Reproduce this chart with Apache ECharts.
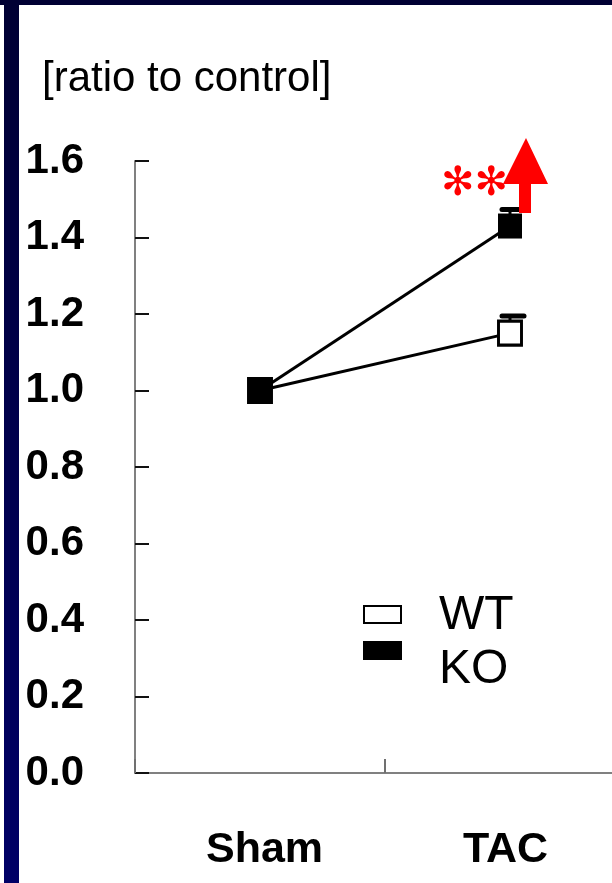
<!DOCTYPE html>
<html>
<head>
<meta charset="utf-8">
<script src="https://cdn.jsdelivr.net/npm/echarts@6/dist/echarts.min.js"></script>
<style>
html,body{margin:0;padding:0;background:#fff;}
#chart{width:612px;height:883px;}
</style>
</head>
<body>
<div id="chart"></div>
<script>
// ---- data ----
const categories = ['Sham', 'TAC'];
const seriesNames = ['WT', 'KO'];
const wtValues = [1.0, 1.15];
const koValues = [1.0, 1.43];
const wtUpper = [null, 1.195];
const koUpper = [null, 1.473];
const yTicks = [0, 0.2, 0.4, 0.6, 0.8, 1.0, 1.2, 1.4, 1.6];
const yTitle = '[ratio to control]';
const sigLabel = '✻✻';

const FONT = 'Liberation Sans, Arial, Helvetica, sans-serif';

function errData(vals, ups) {
  const out = [];
  vals.forEach((v, i) => { if (ups[i] != null) out.push([i, v, ups[i]]); });
  return out;
}

function renderErr(params, api) {
  const x = api.value(0);
  const p0 = api.coord([x, api.value(1)]);
  const p1 = api.coord([x, api.value(2)]);
  const hw = 11;
  return {
    type: 'group',
    children: [
      { type: 'line', shape: { x1: p0[0], y1: p0[1], x2: p1[0], y2: p1[1] },
        style: { stroke: '#000', lineWidth: 3 } },
      { type: 'line', shape: { x1: p1[0] - hw + 3, y1: p1[1], x2: p1[0] + hw + 3, y2: p1[1] },
        style: { stroke: '#000', lineWidth: 5, lineCap: 'round' } }
    ]
  };
}

// small per-label nudges so the category names sit where the original had them
const labelPads = [[0, 0, 0, 9], [0, 9, 0, 0]];
const xData = categories.map((c, i) => ({
  value: c,
  textStyle: { padding: labelPads[i], verticalAlign: 'middle', fontFamily: FONT, fontSize: 43, fontWeight: 'bold', color: '#000' }
}));

const chart = echarts.init(document.getElementById('chart'), null, { renderer: 'canvas' });

const option = {
  backgroundColor: '#ffffff',
  animation: false,
  textStyle: { fontFamily: FONT },
  title: {
    text: yTitle,
    left: 42, top: 58, padding: 0,
    textStyle: { fontFamily: FONT, fontSize: 42, fontWeight: 'normal', color: '#000' }
  },
  grid: { left: 135, top: 161, bottom: 110, width: 500, containLabel: false, outerBoundsMode: 'none' },
  xAxis: {
    type: 'category',
    data: xData,
    boundaryGap: true,
    axisLine: { lineStyle: { color: '#808080', width: 2 } },
    axisTick: { show: true, inside: true, length: 14, lineStyle: { color: '#707070', width: 2 } },
    axisLabel: { fontFamily: FONT, fontSize: 43, fontWeight: 'bold', color: '#000', margin: 77, verticalAlign: 'middle' },
    splitLine: { show: false }
  },
  yAxis: {
    type: 'value',
    min: yTicks[0], max: yTicks[yTicks.length - 1], interval: 0.2,
    axisLine: { show: true, lineStyle: { color: '#808080', width: 2 } },
    axisTick: { show: true, inside: true, length: 14, lineStyle: { color: '#111', width: 2 } },
    axisLabel: { fontFamily: FONT, fontSize: 42, fontWeight: 'bold', color: '#000', margin: 51,
      formatter: v => v.toFixed(1) },
    splitLine: { show: false }
  },
  series: [
    { name: seriesNames[0], type: 'custom', renderItem: renderErr, data: errData(wtValues, wtUpper),
      itemStyle: { color: '#000' }, z: 2, silent: true },
    { name: seriesNames[1], type: 'custom', renderItem: renderErr, data: errData(koValues, koUpper),
      itemStyle: { color: '#000' }, z: 2, silent: true },
    { name: seriesNames[0], type: 'line', data: wtValues, symbol: 'rect', symbolSize: [23, 24],
      lineStyle: { color: '#000', width: 3 },
      itemStyle: { color: '#fff', borderColor: '#000', borderWidth: 3 },
      emphasis: { disabled: true }, z: 3 },
    { name: seriesNames[1], type: 'line', data: koValues, symbol: 'rect', symbolSize: [24, 25],
      lineStyle: { color: '#000', width: 3 },
      itemStyle: { color: '#000', borderColor: '#000', borderWidth: 0 },
      emphasis: { disabled: true }, z: 4 }
  ],
  graphic: [
    { type: 'rect', shape: { x: 0, y: 0, width: 612, height: 5 }, style: { fill: '#000033' }, z: 100 },
    { type: 'rect', shape: { x: 4, y: 0, width: 15, height: 883 },
      style: { fill: new echarts.graphic.LinearGradient(0, 0, 0, 1, [
        { offset: 0, color: '#000033' }, { offset: 1, color: '#000066' }]) }, z: 100 },
    // legend
    { type: 'rect', shape: { x: 364, y: 606, width: 37, height: 17 },
      style: { fill: '#fff', stroke: '#000', lineWidth: 2 }, z: 10 },
    { type: 'rect', shape: { x: 363, y: 641, width: 39, height: 19 },
      style: { fill: '#000' }, z: 10 },
    { type: 'text', x: 439, y: 616,
      style: { text: seriesNames[0], fill: '#000', font: '48px ' + FONT, verticalAlign: 'middle' }, z: 10 },
    { type: 'text', x: 439, y: 670,
      style: { text: seriesNames[1], fill: '#000', font: '48px ' + FONT, verticalAlign: 'middle' }, z: 10 },
    // significance
    { type: 'text', x: 441, y: 165,
      style: { text: sigLabel, fill: '#ff0000', font: '40px "DejaVu Sans"' }, z: 10 },
    { type: 'polygon', shape: { points: [[526, 138], [548, 184], [531, 184], [531, 213], [519, 213], [519, 184], [503, 184]] },
      style: { fill: '#ff0000' }, z: 11 }
  ]
};

chart.setOption(option);
</script>
</body>
</html>
